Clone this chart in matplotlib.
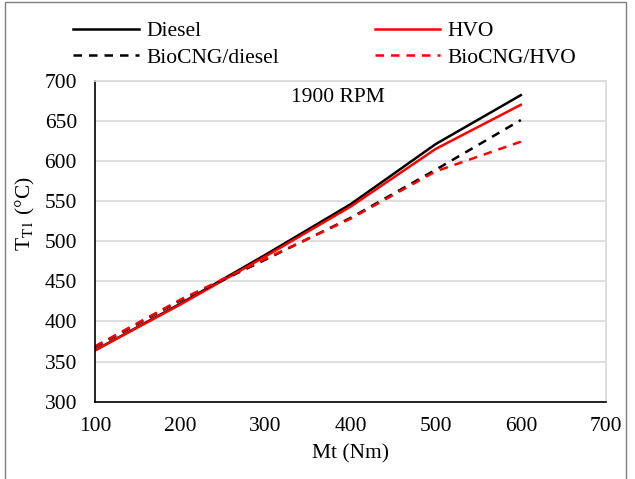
import matplotlib
matplotlib.use("Agg")
import matplotlib.pyplot as plt
from matplotlib.patches import Rectangle

# Exhaust temperature at turbine inlet vs. engine torque, 1900 RPM
torque = [100, 200, 300, 400, 500, 600]
diesel = [364, 422, 483, 546, 621, 682]
hvo = [364, 421, 481, 543, 615, 670]
biocng_diesel = [368, 426, 477, 529, 589, 651]
biocng_hvo = [369, 427, 478, 528, 587, 624]

x_ticks = [100, 200, 300, 400, 500, 600, 700]
y_ticks = [300, 350, 400, 450, 500, 550, 600, 650, 700]

plt.rcParams["font.family"] = ["Liberation Serif", "DejaVu Serif"]
plt.rcParams["mathtext.fontset"] = "stix"
FS = 15.5
LW = 1.8

fig = plt.figure(figsize=(6.35, 4.79), dpi=100)
ax = fig.add_axes([95 / 635, 1 - 401.7 / 479, (606 - 95) / 635, (401.7 - 80.7) / 479])

dash = (0, (3.4, 2.8))
ax.plot(torque, diesel, color="black", lw=LW, label="Diesel")
ax.plot(torque, hvo, color="#ff0000", lw=LW, label="HVO")
ax.plot(torque, biocng_diesel, color="black", lw=LW, linestyle=dash, label="BioCNG/diesel")
ax.plot(torque, biocng_hvo, color="#ff0000", lw=LW, linestyle=dash, label="BioCNG/HVO")

ax.set_xlim(100, 700)
ax.set_ylim(300, 700)
ax.set_xticks(x_ticks)
ax.set_yticks(y_ticks)
ax.tick_params(axis="both", length=0, labelsize=FS)
ax.tick_params(axis="x", pad=11)
ax.tick_params(axis="y", pad=13)
ax.grid(axis="y", color="#d9d9d9", lw=1.2)
ax.set_axisbelow(True)

for side in ("top", "right"):
    ax.spines[side].set_color("#d9d9d9")
    ax.spines[side].set_linewidth(1.2)
for side in ("left", "bottom"):
    ax.spines[side].set_color("black")
    ax.spines[side].set_linewidth(1.2)

ax.set_xlabel("Mt (Nm)", fontsize=FS, labelpad=6)
fig.text(25 / 635, 1 - 214 / 479, r"T$_{\mathrm{T1}}$ (°C)", fontsize=FS,
         rotation=90, ha="center", va="center", rotation_mode="anchor")

ax.text(385, 679, "1900 RPM", fontsize=FS, ha="center", va="center")

# legend: two columns above the plot area
handles, labels = ax.get_legend_handles_labels()
order = [0, 2, 1, 3]
fig.legend([handles[i] for i in order], [labels[i] for i in order],
           ncol=2, loc="upper left", bbox_to_anchor=(73 / 635, 1 - 21 / 479),
           frameon=False, fontsize=FS, borderpad=0, borderaxespad=0,
           handlelength=3.05, handletextpad=0.35, columnspacing=4.45,
           labelspacing=0.3)

# chart border
fig.patches.append(Rectangle((5 / 635, -0.05), (626 - 5) / 635, 1.05 - 2.5 / 479,
                             transform=fig.transFigure, fill=False,
                             edgecolor="#7f7f7f", lw=1.0))

fig.savefig("out.png", dpi=100, facecolor="white")
